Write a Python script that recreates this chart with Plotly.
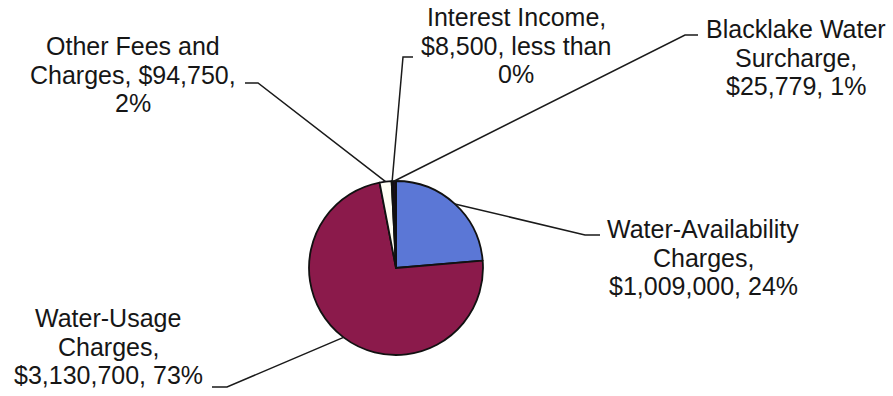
import math
import plotly.graph_objects as go

# Revenue sources (clockwise from 12 o'clock)
categories = [
    "Water-Availability Charges",
    "Water-Usage Charges",
    "Other Fees and Charges",
    "Interest Income",
    "Blacklake Water Surcharge",
]
amounts = [1009000, 3130700, 94750, 8500, 25779]
slice_colors = ["#5b77d6", "#8b1a4b", "#fffff4", "#e6f4f4", "#1c0c1c"]

# Label text, one list entry per line; {amt} and {pct} are filled from the data
label_templates = [
    ["Water-Availability", "Charges,", "{amt}, {pct}"],
    ["Water-Usage", "Charges,", "{amt}, {pct}"],
    ["Other Fees and", "Charges, {amt},", "{pct}"],
    ["Interest Income,", "{amt}, less than", "{pct}"],
    ["Blacklake Water", "Surcharge,", "{amt}, {pct}"],
]

W, H = 893, 396
CX, CY, R = 396, 268, 87          # pie centre and radius in pixels
FONT_SIZE = 25
LINE_GAP = 28.5

# label block: centre x, first-line baseline y
label_pos = [(703, 238), (108, 327), (133, 55), (516, 26), (796, 38)]
# leader line: short tick next to the text, then elbow toward the slice
leader_tick = [((600, 235), (585, 235)),
               ((212, 387), (227, 387)),
               ((245, 83), (258, 83)),
               ((413, 57), (403, 57)),
               ((698, 35), (685, 35))]


def px(x):
    return x / W


def py(y):
    return 1 - y / H


total = sum(amounts)

fig = go.Figure(go.Pie(
    labels=categories,
    values=amounts,
    sort=False,
    direction="clockwise",
    rotation=0,
    marker=dict(colors=slice_colors, line=dict(color="#111111", width=1.8)),
    textinfo="none",
    hoverinfo="label+value+percent",
    showlegend=False,
    domain=dict(x=[px(CX - R), px(CX + R)], y=[py(CY + R), py(CY - R)]),
))

annotations = []
shapes = []
cum = 0
for i, v in enumerate(amounts):
    mid = 2 * math.pi * (cum + v / 2) / total
    cum += v
    edge_x = CX + R * math.sin(mid)
    edge_y = CY - R * math.cos(mid)

    (tx, ty), (ex, ey) = leader_tick[i]
    path = (f"M {px(tx)} {py(ty)} L {px(ex)} {py(ey)} "
            f"L {px(edge_x)} {py(edge_y)}")
    shapes.append(dict(type="path", xref="paper", yref="paper", path=path,
                       line=dict(color="#1a1a1a", width=1.5)))

    amt = f"${v:,}"
    pct = f"{round(100 * v / total)}%"
    cx, base = label_pos[i]
    for k, tmpl in enumerate(label_templates[i]):
        text = tmpl.format(amt=amt, pct=pct)
        yb = base + k * LINE_GAP
        annotations.append(dict(
            x=px(cx), y=py(yb - 9), xref="paper", yref="paper",
            text=text, showarrow=False, xanchor="center", yanchor="middle",
            font=dict(family="Liberation Sans, Arial, sans-serif",
                      size=FONT_SIZE, color="#161616"),
        ))

fig.update_layout(
    width=W, height=H,
    margin=dict(l=0, r=0, t=0, b=0),
    paper_bgcolor="white",
    plot_bgcolor="white",
    annotations=annotations,
    shapes=shapes,
)

fig.write_html("out.html")
